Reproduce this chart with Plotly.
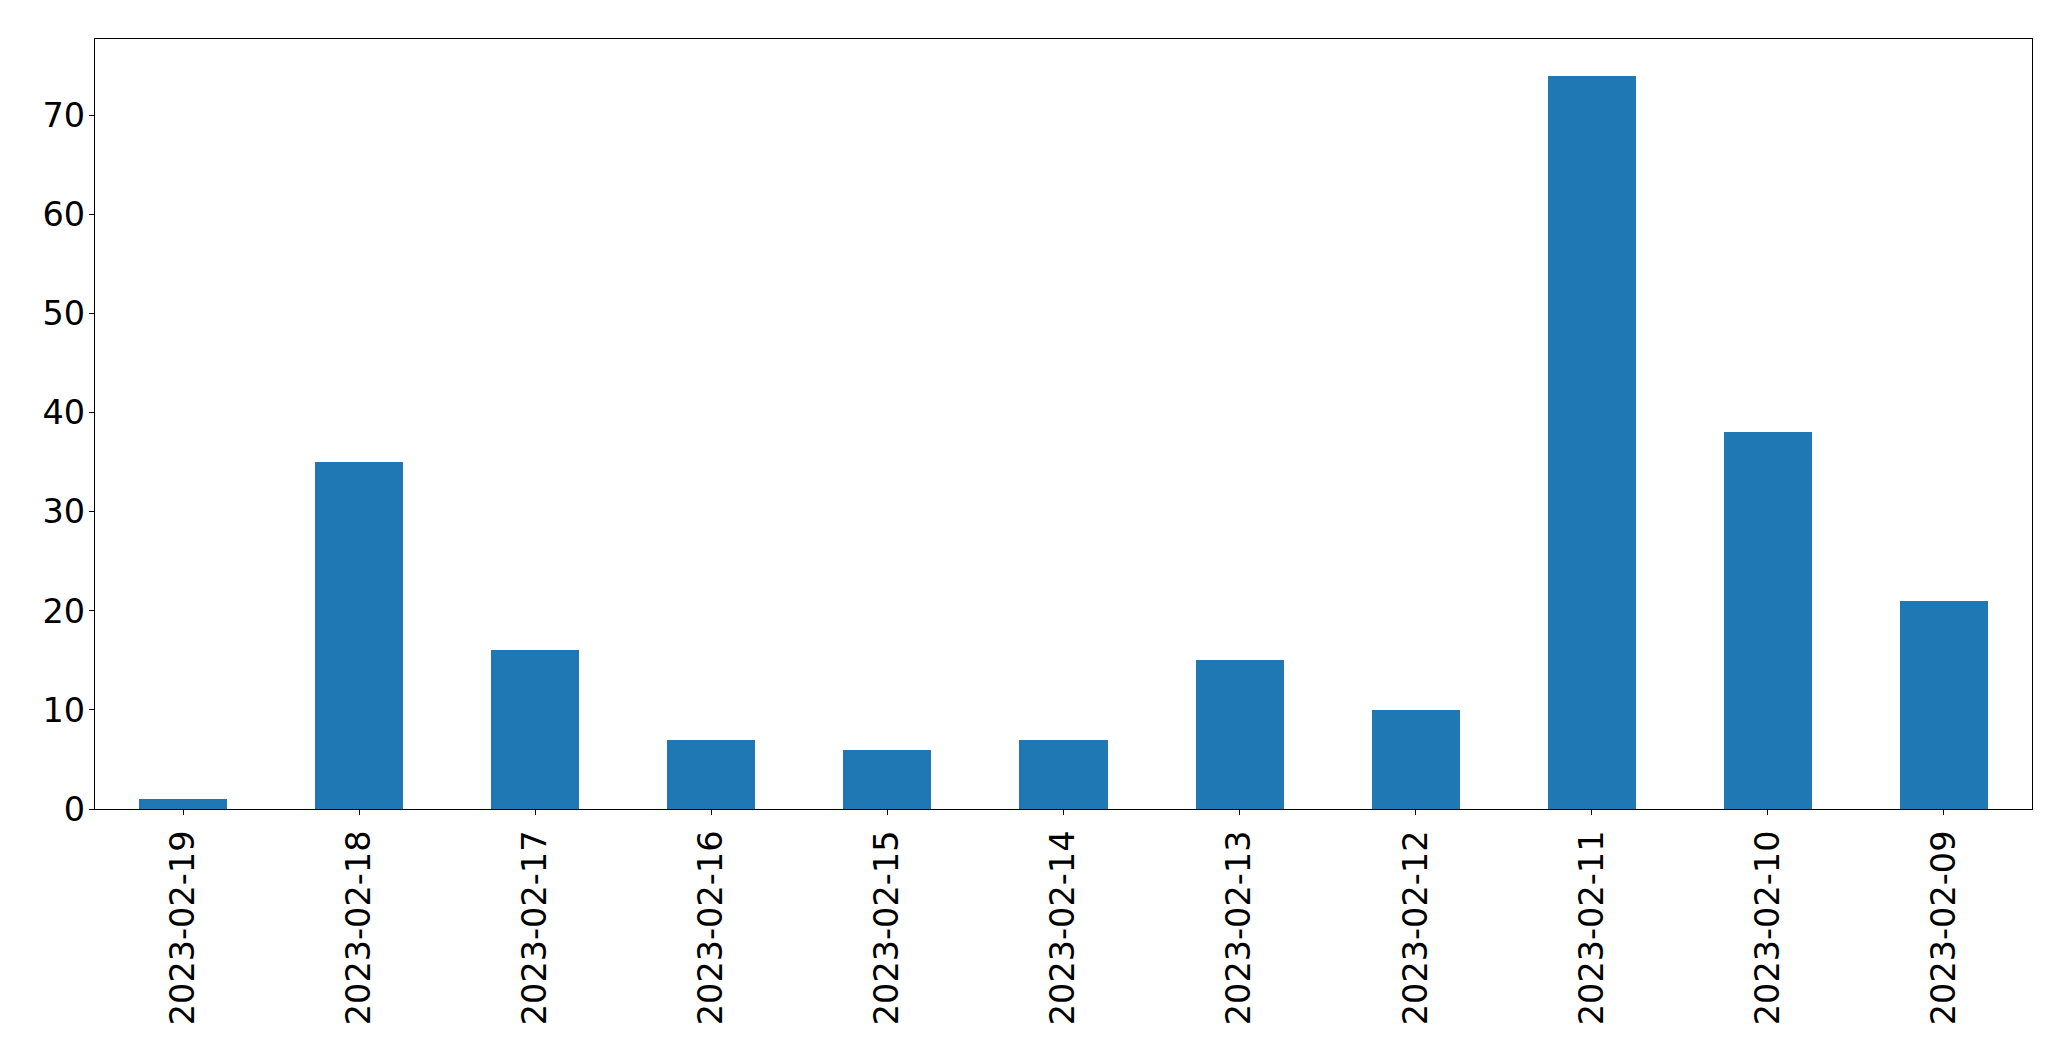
import plotly.graph_objects as go

dates = ["2023-02-19", "2023-02-18", "2023-02-17", "2023-02-16", "2023-02-15",
         "2023-02-14", "2023-02-13", "2023-02-12", "2023-02-11", "2023-02-10", "2023-02-09"]
counts = [1, 35, 16, 7, 6, 7, 15, 10, 74, 38, 21]
y_ticks = [0, 10, 20, 30, 40, 50, 60, 70]

fig = go.Figure()
fig.add_trace(go.Bar(x=dates, y=counts, marker=dict(color="#1f77b4", line=dict(width=0)), width=0.5))

font = dict(family="DejaVu Sans", size=33.5, color="black")
fig.update_layout(
    width=2071, height=1061,
    margin=dict(l=95, r=39, t=39, b=252, autoexpand=False),
    plot_bgcolor="white", paper_bgcolor="white",
    showlegend=False, bargap=0,
    font=font,
)
fig.update_xaxes(
    type="category", range=[-0.5, 10.5], tickangle=-90,
    showline=True, linecolor="black", linewidth=1.3, mirror=True,
    ticks="outside", ticklen=5, tickwidth=1.3, tickcolor="black",
    showgrid=False, zeroline=False, tickfont=font, ticklabelstandoff=2,
)
fig.update_yaxes(
    range=[0, 77.7], tickvals=y_ticks,
    showline=True, linecolor="black", linewidth=1.3, mirror=True,
    ticks="outside", ticklen=5, tickwidth=1.3, tickcolor="black",
    showgrid=False, zeroline=False, tickfont=font, ticklabelstandoff=-3,
)
fig.write_html("out.html", config={"displayModeBar": False},
               post_script="document.body.style.margin='0';document.body.style.overflow='hidden';")
